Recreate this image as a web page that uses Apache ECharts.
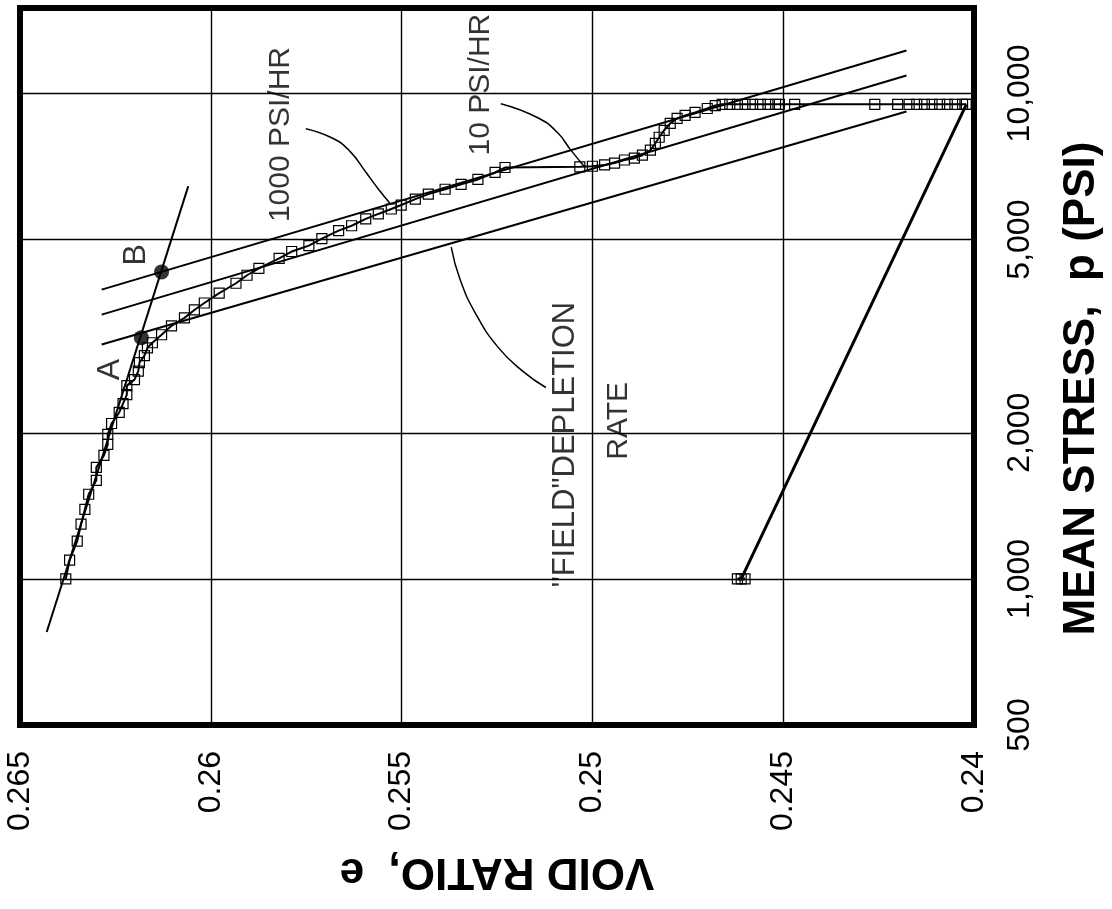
<!DOCTYPE html>
<html><head><meta charset="utf-8">
<script src="https://cdn.jsdelivr.net/npm/echarts@6/dist/echarts.min.js"></script>
<style>html,body{margin:0;padding:0;background:#fff}#c{width:1112px;height:909px}</style>
</head><body><div id="c"></div>
<script>
// ---- axis ticks ----
const stressTicks = [500, 1000, 2000, 5000, 10000];
const stressTickLabels = ['500', '1,000', '2,000', '5,000', '10,000'];
const stressMin = 500, stressMax = 15000;
const voidMin = 0.24, voidMax = 0.265, voidStep = 0.005;

// ---- test data (void ratio e, mean stress p in psi) ----
const testVoid = [0.2638,0.2637,0.2635,0.2634,0.2633,0.2632,0.2630,0.2630,0.2628,0.2627,0.2627,0.2626,0.2624,0.2623,0.2622,0.2622,0.2620,0.2619,
  0.26187,0.26174,0.26166,0.26153,0.26129,0.26103,0.26069,0.26043,0.26017,0.25978,0.25934,0.25905,0.25874,0.25821,0.25788,
  0.25743,0.25709,0.25665,0.25631,0.25594,0.25561,0.25527,0.25501,0.25464,0.2543,0.25386,0.25344,0.253,0.25255,0.25229,
  0.25033,0.2500,0.24968,0.24942,0.24916,0.2489,0.24869,0.24848,0.24835,0.24825,0.24812,0.24796,0.24778,0.24757,0.24731,0.24699,0.24678,0.2466,
  0.2464,0.2462,0.2460,0.2458,0.2456,0.2454,0.2452,0.2451,0.2447,0.2426,0.2420,0.2417,0.2415,0.2413,0.2411,0.2409,0.2407,0.2405,0.2403,0.2402];
const testStress = [1000,1093,1196,1296,1391,1494,1596,1697,1796,1892,1984,2090,2202,2297,2397,2501,2573,2680,
  2790,2883,2993,3065,3184,3321,3449,3581,3701,3879,4065,4222,4362,4573,4725,
  4860,5022,5216,5339,5515,5647,5781,5891,6058,6203,6349,6499,6651,6875,7038,
  7060,7080,7125,7189,7293,7358,7462,7640,7895,8124,8398,8681,8886,9012,9140,9312,9443,9500,
  9500,9500,9500,9500,9500,9500,9500,9500,9500,9500,9500,9500,9500,9500,9500,9500,9500,9500,9500,9500];
// unloading points
const unloadVoid = [0.2461, 0.2462, 0.2460];
const unloadStress = [1000, 1000, 1000];

// ---- straight reference lines ----
const abLineVoid = [0.2643, 0.26059];
const abLineStress = [777, 6442];
const pointVoid = [0.26182, 0.26129];     // A, B
const pointStress = [3140, 4290];
const rateLineVoid = [0.26286, 0.24177];
const rateTopStress = [3944, 12262];
const rateMidStress = [3503, 10889];
const rateLowStress = [3040, 9183];

// ---- leader curves ----
const lead1000Void = [0.25751,0.25678,0.25634,0.25594,0.25561,0.25529];
const lead1000Stress = [8462,8067,7580,6890,6357,5919];
const lead10Void = [0.2524,0.25143,0.25091,0.25057,0.2502];
const lead10Stress = [9528,8913,8298,7652,7058];
const leadFieldVoid = [0.2537,0.25347,0.25305,0.25247,0.25182,0.25122];
const leadFieldStress = [4824,4143,3508,2999,2676,2479];

// ---- annotations ----
const noteText = ['1000 PSI/HR', '10 PSI/HR', 'A', 'B', '"FIELD"DEPLETION', 'RATE'];
const noteVoid = [0.25816, 0.25292, 0.26265, 0.26195, 0.2507, 0.24932];
const noteStress = [8229, 10431, 2700, 4653, 1891, 2117];
const noteSize = [30, 30, 32, 32, 31, 30];

const L = v => Math.log10(v);
const pairs = (es, ps) => es.map((e, i) => [e, L(ps[i])]);
const FONT = '"Liberation Sans", Arial, Helvetica, sans-serif';

const lineS = (data, w, extra) => Object.assign({
  type: 'line', data, symbol: 'none', silent: true,
  lineStyle: { color: '#000', width: w }, z: 2
}, extra || {});

const lastPt = [testVoid[testVoid.length - 1], testStress[testStress.length - 1]];

const chart = echarts.init(document.getElementById('c'), null, { renderer: 'canvas' });
chart.setOption({
  animation: false,
  backgroundColor: '#fff',
  grid: { left: 20, right: 135, top: 8, bottom: 184, show: true, borderColor: '#000', borderWidth: 6, backgroundColor: 'transparent' },
  xAxis: {
    type: 'value', min: voidMin, max: voidMax, interval: voidStep, inverse: true,
    axisLine: { show: false }, axisTick: { show: false },
    splitLine: { show: true, lineStyle: { color: '#000', width: 1.4 } },
    axisLabel: { rotate: 90, margin: 26, fontSize: 32, color: '#000', fontFamily: FONT },
    name: 'VOID RATIO,  e', nameLocation: 'middle', nameRotate: 180, nameGap: 124,
    nameTextStyle: { fontSize: 44, fontWeight: 'bold', color: '#000', fontFamily: FONT }
  },
  yAxis: {
    type: 'value', position: 'right', min: L(stressMin), max: L(stressMax),
    axisLine: { show: false },
    axisTick: { show: false, customValues: stressTicks.map(L) },
    splitLine: { show: true, lineStyle: { color: '#000', width: 1.4 } },
    axisLabel: {
      rotate: 90, margin: 30, fontSize: 32, color: '#000', fontFamily: FONT,
      customValues: stressTicks.map(L),
      formatter: v => {
        let best = 0;
        stressTicks.forEach((t, i) => { if (Math.abs(L(t) - v) < Math.abs(L(stressTicks[best]) - v)) best = i; });
        return stressTickLabels[best];
      }
    },
    name: 'MEAN STRESS,  p (PSI)', nameLocation: 'middle', nameRotate: 90, nameGap: 86,
    nameTextStyle: { fontSize: 44, fontWeight: 'bold', color: '#000', fontFamily: FONT, padding: [0, 44, 0, 0] }
  },
  series: [
    lineS(pairs(rateLineVoid, rateTopStress), 2),
    lineS(pairs(rateLineVoid, rateMidStress), 2),
    lineS(pairs(rateLineVoid, rateLowStress), 2),
    lineS(pairs(abLineVoid, abLineStress), 2),
    lineS(pairs(lead1000Void, lead1000Stress), 1.5, { smooth: true }),
    lineS(pairs(lead10Void, lead10Stress), 1.5, { smooth: true }),
    lineS(pairs(leadFieldVoid, leadFieldStress), 1.5, { smooth: true }),
    {
      type: 'line', silent: true, z: 3,
      data: pairs([lastPt[0]].concat(unloadVoid), [lastPt[1]].concat(unloadStress)),
      symbol: 'rect', symbolSize: 10, showSymbol: true,
      lineStyle: { color: '#000', width: 3 },
      itemStyle: { color: 'rgba(255,255,255,0)', borderColor: '#000', borderWidth: 1.2 }
    },
    {
      type: 'line', silent: true, z: 4,
      data: pairs(testVoid, testStress),
      symbol: 'rect', symbolSize: 10, showSymbol: true, showAllSymbol: true,
      lineStyle: { color: '#000', width: 2 },
      itemStyle: { color: 'rgba(255,255,255,0)', borderColor: '#000', borderWidth: 1.2 }
    },
    {
      type: 'scatter', silent: true, z: 5, symbol: 'circle', symbolSize: 15,
      itemStyle: { color: '#000' },
      data: pairs(pointVoid, pointStress)
    },
    {
      type: 'scatter', silent: true, z: 6, symbolSize: 1,
      itemStyle: { color: 'rgba(0,0,0,0)' },
      data: noteVoid.map((e, i) => ({
        value: [e, L(noteStress[i])], name: noteText[i],
        label: { fontSize: noteSize[i] }
      })),
      label: {
        show: true, position: 'inside', rotate: 90, formatter: p => p.name,
        fontSize: 30, color: '#000', fontFamily: FONT, align: 'center', verticalAlign: 'middle'
      }
    }
  ]
});
</script></body></html>
